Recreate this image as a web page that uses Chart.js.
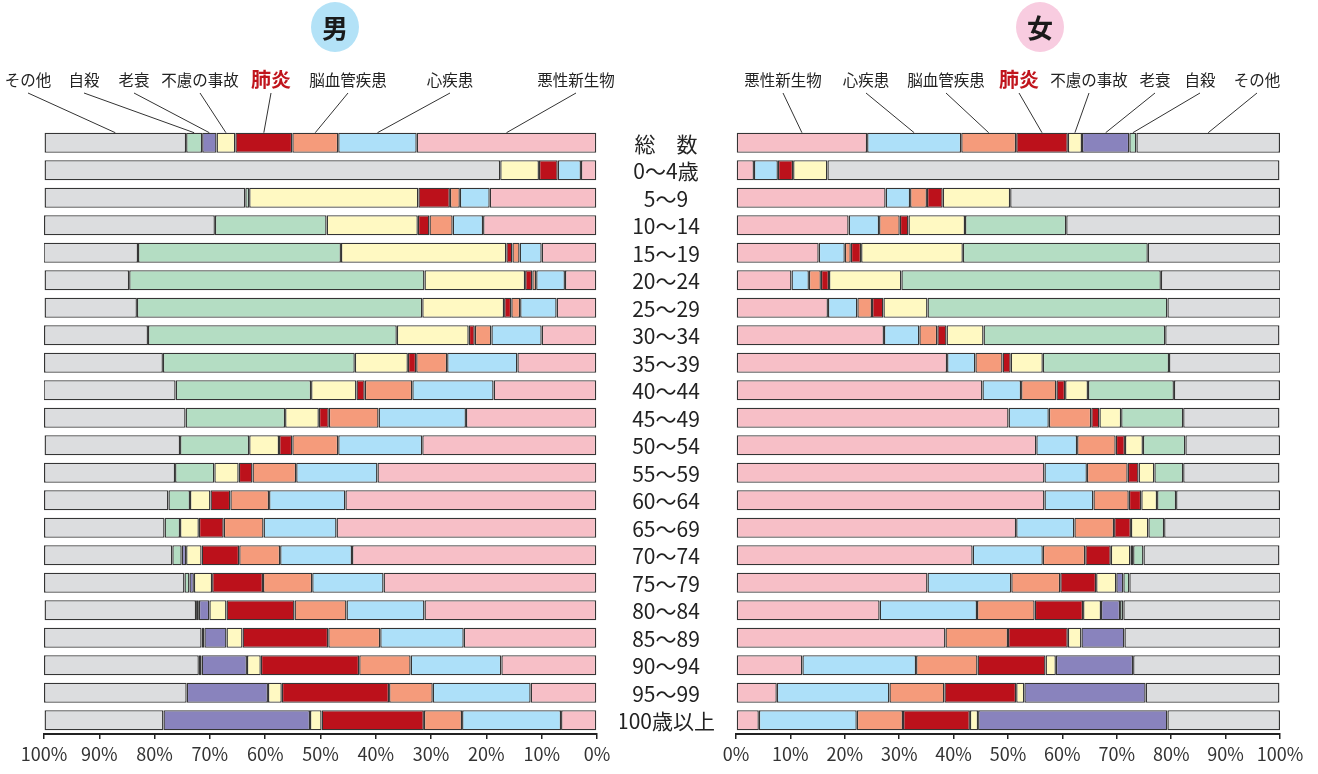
<!DOCTYPE html>
<html lang="ja">
<head>
<meta charset="utf-8">
<title>性・年齢階級別 主な死因の構成割合</title>
<script src="https://cdn.jsdelivr.net/npm/chart.js@4.4.1/dist/chart.umd.min.js"></script>
<style>
  html, body { margin: 0; padding: 0; background: #fff; }
  #wrap { position: relative; width: 1318px; height: 774px; overflow: hidden; }
  .box { position: absolute; top: 0; height: 774px; }
  #boxMale { left: 0; width: 620px; }
  #boxFemale { left: 620px; width: 698px; }
</style>
</head>
<body>
<div id="wrap">
  <div class="box" id="boxMale"><canvas id="chartMale"></canvas></div>
  <div class="box" id="boxFemale"><canvas id="chartFemale"></canvas></div>
</div>
<script>
/* 年齢階級 */
var AGES = ["総　数", "0〜4歳", "5〜9", "10〜14", "15〜19", "20〜24", "25〜29", "30〜34", "35〜39", "40〜44", "45〜49",
  "50〜54", "55〜59", "60〜64", "65〜69", "70〜74", "75〜79", "80〜84", "85〜89", "90〜94", "95〜99", "100歳以上"];

/* 死因（積み上げ順） */
var CAUSES = ["悪性新生物", "心疾患", "脳血管疾患", "肺炎", "不慮の事故", "老衰", "自殺", "その他"];

var X_TICKS = [0, 10, 20, 30, 40, 50, 60, 70, 80, 90, 100];

/* 男 (%) */
var maleCancer    = [32.6, 2.9, 19.4, 20.6, 10.0, 5.8, 7.3, 10.0, 14.4, 18.7, 23.7, 31.6, 39.7, 45.5, 47.1, 44.3, 38.6, 31.2, 24.1, 17.3, 12.0, 6.5];
var maleHeart     = [14.2, 4.2, 5.4, 5.5, 4.0, 5.2, 6.6, 9.1, 12.7, 14.7, 15.8, 15.2, 14.7, 13.8, 13.2, 13.0, 12.9, 14.1, 15.1, 16.4, 17.7, 17.9];
var maleStroke    = [8.3, 0, 1.8, 4.2, 1.3, 0.7, 1.6, 3.0, 5.6, 8.6, 9.0, 8.3, 7.9, 7.0, 7.2, 7.4, 8.9, 9.4, 9.4, 9.3, 7.9, 6.9];
var malePneumonia = [10.3, 3.4, 5.7, 2.1, 1.1, 1.3, 1.3, 1.1, 1.5, 1.5, 1.8, 2.4, 2.5, 3.6, 4.5, 6.8, 9.2, 12.3, 15.5, 17.8, 19.4, 18.5];
var maleAccident  = [3.4, 7.0, 30.6, 16.5, 29.9, 18.2, 14.8, 13.0, 9.6, 8.2, 6.1, 5.4, 4.4, 3.7, 3.4, 2.8, 3.3, 3.1, 2.9, 2.5, 2.5, 2.1];
var maleSenility  = [2.6, 0, 0, 0, 0, 0, 0, 0, 0, 0, 0, 0, 0, 0, 0, 0.8, 0.8, 1.9, 4.0, 8.2, 14.7, 26.5];
var maleSuicide   = [2.9, 0, 0.7, 20.2, 36.7, 53.4, 51.6, 45.0, 34.7, 24.5, 18.0, 12.5, 7.1, 3.9, 2.8, 1.7, 0.9, 0.5, 0.5, 0.5, 0, 0];
var maleOther     = [25.6, 82.4, 36.3, 30.9, 17.1, 15.3, 16.7, 18.8, 21.5, 23.9, 25.6, 24.5, 23.7, 22.5, 21.8, 23.2, 25.4, 27.4, 28.5, 28.0, 25.8, 21.5];

/* 女 (%) */
var femaleCancer    = [24.1, 3.3, 27.5, 20.7, 15.2, 10.2, 16.9, 27.2, 38.8, 45.3, 50.1, 55.2, 56.7, 56.7, 51.5, 43.5, 35.2, 26.4, 38.5, 12.2, 7.5, 4.2];
var femaleHeart     = [17.3, 4.4, 4.5, 5.6, 4.8, 3.2, 5.4, 6.5, 5.2, 7.1, 7.4, 7.5, 7.8, 9.0, 10.7, 12.9, 15.4, 17.9, 0, 20.9, 20.7, 18.0];
var femaleStroke    = [10.1, 0, 3.1, 3.8, 1.1, 2.2, 2.7, 3.3, 5.0, 6.5, 7.8, 7.1, 7.5, 6.5, 7.3, 7.8, 9.0, 10.6, 11.5, 11.3, 10.1, 8.5];
var femalePneumonia = [9.5, 2.8, 2.9, 1.6, 1.9, 1.5, 2.1, 1.7, 1.5, 1.6, 1.5, 1.7, 2.0, 2.3, 3.1, 4.7, 6.6, 8.9, 11.0, 12.5, 13.2, 12.3];
var femaleAccident  = [2.6, 6.3, 12.4, 10.4, 18.7, 13.3, 8.1, 6.8, 5.9, 4.2, 4.0, 3.3, 2.9, 2.9, 3.2, 3.6, 3.7, 3.3, 2.5, 1.9, 1.5, 1.5];
var femaleSenility  = [8.7, 0, 0, 0, 0, 0, 0, 0, 0, 0, 0, 0, 0, 0, 0, 0.5, 1.3, 3.5, 7.9, 14.2, 22.3, 34.8];
var femaleSuicide   = [1.3, 0, 0, 18.6, 34.0, 47.7, 44.1, 33.4, 23.2, 15.8, 11.4, 7.8, 5.3, 3.5, 2.9, 1.9, 1.1, 0.6, 0, 0, 0, 0];
var femaleOther     = [26.4, 83.1, 49.6, 39.3, 24.4, 22.0, 20.8, 21.0, 20.5, 19.5, 17.7, 17.4, 17.7, 19.1, 21.4, 25.0, 27.8, 28.9, 28.6, 27.0, 24.6, 20.7];

var COLORS = ["#F7BFC7", "#ADE0F9", "#F59B7B", "#BC111B", "#FFF9C2", "#8983BD", "#B4DDC3", "#DCDDDF"];

var FONT = '"Noto Sans CJK JP", "Noto Sans", sans-serif';
Chart.defaults.font.family = FONT;
Chart.defaults.color = "#2a2a2a";

/* 上部の死因ラベル位置（ページ座標 x） */
var LABEL_X_MALE = { "その他": 28, "自殺": 84, "老衰": 134, "不慮の事故": 200, "肺炎": 271, "脳血管疾患": 348, "心疾患": 450, "悪性新生物": 576 };
var LABEL_X_FEMALE = { "悪性新生物": 783, "心疾患": 866, "脳血管疾患": 946, "肺炎": 1019, "不慮の事故": 1089, "老衰": 1155, "自殺": 1200, "その他": 1257 };

function makeDatasets(series) {
  return series.map(function (data, i) {
    return {
      label: CAUSES[i],
      data: data,
      backgroundColor: COLORS[i],
      borderColor: "#353535",
      borderWidth: 1.4,
      borderSkipped: false,
      barPercentage: 0.73,
      categoryPercentage: 1,
    };
  });
}

/* 総数の棒から死因名へ引き出し線 */
var causeLabels = {
  id: "causeLabels",
  afterDraw: function (chart, args, opts) {
    var ctx = chart.ctx;
    ctx.save();
    chart.data.datasets.forEach(function (ds, i) {
      var bar = chart.getDatasetMeta(i).data[0];
      var endX = (bar.x + bar.base) / 2;
      var endY = bar.y - bar.height / 2;
      var lx = opts.labelX[ds.label] - opts.offsetX;

      ctx.strokeStyle = "#333";
      ctx.lineWidth = 1;
      ctx.beginPath();
      ctx.moveTo(lx, 93);
      ctx.lineTo(endX, endY);
      ctx.stroke();

      ctx.textAlign = "center";
      ctx.textBaseline = "middle";
      if (ds.label === "肺炎") {
        ctx.fillStyle = "#C0141C";
        ctx.font = "bold 20px " + FONT;
        ctx.fillText(ds.label, lx, 79);
      } else {
        ctx.fillStyle = "#222";
        ctx.font = "15.5px " + FONT;
        ctx.fillText(ds.label, lx, 80);
      }
    });
    ctx.restore();
  },
};

/* 男・女の見出し */
var sexTitle = {
  id: "sexTitle",
  afterDraw: function (chart, args, opts) {
    var ctx = chart.ctx;
    ctx.save();
    ctx.fillStyle = opts.color;
    ctx.beginPath();
    ctx.ellipse(opts.cx, 27, 24, 25, 0, 0, Math.PI * 2);
    ctx.fill();
    ctx.fillStyle = "#1a1a1a";
    ctx.font = "bold 26px " + FONT;
    ctx.textAlign = "center";
    ctx.textBaseline = "middle";
    ctx.fillText(opts.text, opts.cx, 28);
    ctx.restore();
  },
};

/* 中央の年齢階級ラベル */
var ageLabels = {
  id: "ageLabels",
  afterDraw: function (chart) {
    var ctx = chart.ctx;
    var y = chart.scales.y;
    ctx.save();
    ctx.fillStyle = "#222";
    ctx.font = "21px " + FONT;
    ctx.textAlign = "center";
    ctx.textBaseline = "middle";
    AGES.forEach(function (age, i) {
      ctx.fillText(age, chart.chartArea.left - 70, y.getPixelForValue(i) + 1);
    });
    ctx.restore();
  },
};

function makeOptions(reverse, padding, plugins) {
  return {
    indexAxis: "y",
    responsive: true,
    maintainAspectRatio: false,
    animation: false,
    layout: { padding: padding },
    scales: {
      x: {
        stacked: true,
        reverse: reverse,
        min: 0,
        max: 100,
        afterBuildTicks: function (scale) {
          scale.ticks = X_TICKS.map(function (v) { return { value: v }; });
        },
        afterFit: function (scale) {
          scale.height = 40;
        },
        border: { display: true, color: "#222", width: 2 },
        grid: { drawOnChartArea: false, drawTicks: true, tickLength: 5, color: "#222", lineWidth: 1.5 },
        ticks: {
          padding: 4,
          font: { size: 18 },
          color: "#333",
          maxRotation: 0,
          callback: function (v) { return v + "%"; },
        },
      },
      y: {
        stacked: true,
        display: false,
      },
    },
    plugins: Object.assign({ legend: { display: false }, tooltip: { enabled: false } }, plugins),
  };
}

window.addEventListener("DOMContentLoaded", function () {
  new Chart(document.getElementById("chartMale"), {
    type: "bar",
    data: {
      labels: AGES,
      datasets: makeDatasets([maleCancer, maleHeart, maleStroke, malePneumonia, maleAccident, maleSenility, maleSuicide, maleOther]),
    },
    options: makeOptions(true, { left: 44, right: 23, top: 129, bottom: 0 }, {
      causeLabels: { labelX: LABEL_X_MALE, offsetX: 0 },
      sexTitle: { text: "男", color: "#B3E2F7", cx: 335 },
    }),
    plugins: [causeLabels, sexTitle],
  });

  new Chart(document.getElementById("chartFemale"), {
    type: "bar",
    data: {
      labels: AGES,
      datasets: makeDatasets([femaleCancer, femaleHeart, femaleStroke, femalePneumonia, femaleAccident, femaleSenility, femaleSuicide, femaleOther]),
    },
    options: makeOptions(false, { left: 116, right: 38, top: 129, bottom: 0 }, {
      causeLabels: { labelX: LABEL_X_FEMALE, offsetX: 620 },
      sexTitle: { text: "女", color: "#F8CCE0", cx: 420 },
    }),
    plugins: [causeLabels, sexTitle, ageLabels],
  });
});
</script>
</body>
</html>
